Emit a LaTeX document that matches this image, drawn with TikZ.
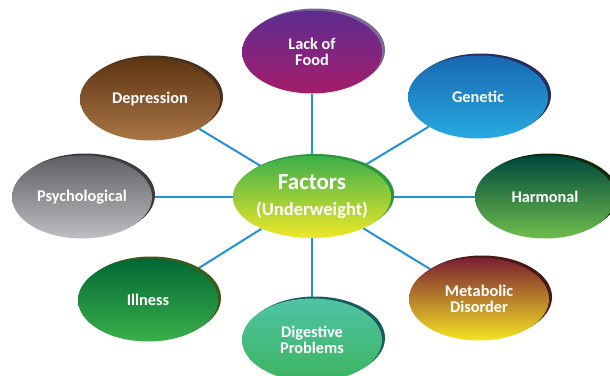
\documentclass[tikz,border=0pt]{standalone}
\usepackage{fontspec}
\setmainfont{Carlito}
\usetikzlibrary{shapes.geometric,shadows,backgrounds}
\definecolor{linkblue}{RGB}{33,146,212}
\definecolor{foodtop}{RGB}{93,45,145}
\definecolor{foodbot}{RGB}{165,28,106}
\definecolor{foodsh}{RGB}{125,105,150}
\definecolor{gentop}{RGB}{24,104,176}
\definecolor{genbot}{RGB}{40,170,225}
\definecolor{gensh}{RGB}{40,45,100}
\definecolor{deptop}{RGB}{92,52,18}
\definecolor{depbot}{RGB}{170,118,70}
\definecolor{depsh}{RGB}{70,50,30}
\definecolor{psytop}{RGB}{95,96,99}
\definecolor{psybot}{RGB}{190,191,194}
\definecolor{psysh}{RGB}{60,60,62}
\definecolor{factop}{RGB}{60,175,74}
\definecolor{facbot}{RGB}{240,232,40}
\definecolor{facsh}{RGB}{45,150,60}
\definecolor{hartop}{RGB}{0,72,62}
\definecolor{harbot}{RGB}{110,190,75}
\definecolor{harsh}{RGB}{20,40,10}
\definecolor{mettop}{RGB}{122,30,50}
\definecolor{metbot}{RGB}{245,228,35}
\definecolor{metsh}{RGB}{70,25,20}
\definecolor{illtop}{RGB}{0,104,52}
\definecolor{illbot}{RGB}{60,175,75}
\definecolor{illsh}{RGB}{60,90,30}
\definecolor{digtop}{RGB}{80,195,165}
\definecolor{digbot}{RGB}{60,180,95}
\definecolor{digsh}{RGB}{25,90,95}
\tikzset{
	bubble/.style n args={3}{ellipse, minimum width=140pt, minimum height=83pt, inner sep=0pt,
		general shadow={fill=#3, shadow xshift=3pt, shadow yshift=2pt},
		top color=#1, bottom color=#2, text=white, align=center,
		font=\bfseries\fontsize{16.3}{15.5}\selectfont},
	link/.style={draw=linkblue, line width=2pt}
}
\begin{document}
\begin{tikzpicture}[x=1pt,y=-1pt]
				\useasboundingbox (0,0) rectangle (610,375);
				\clip (0,0) rectangle (610,375);
				\node[bubble={factop}{facbot}{facsh}, minimum width=141pt, minimum height=82pt,
					font=\bfseries\fontsize{18.5}{26}\selectfont] (fac) at (312,197)
					{{\fontsize{23}{26}\selectfont Factors}\\(Underweight)};
				\node[bubble={foodtop}{foodbot}{foodsh}] (food) at (312,52) {Lack of\\Food};
				\node[bubble={gentop}{genbot}{gensh}] (gen) at (478,97) {Genetic};
				\node[bubble={deptop}{depbot}{depsh}] (dep) at (150,99) {Depression};
				\node[bubble={psytop}{psybot}{psysh}] (psy) at (82,197) {Psychological};
				\node[bubble={hartop}{harbot}{harsh}] (har) at (545,197) {Harmonal};
				\node[bubble={mettop}{metbot}{metsh}] (met) at (479,299) {Metabolic\\Disorder};
				\node[bubble={illtop}{illbot}{illsh}] (ill) at (148,300) {Illness};
				\node[bubble={digtop}{digbot}{digsh}] (dig) at (312,340) {Digestive\\Problems};
				\begin{scope}[on background layer]
					\foreach \n in {food,gen,dep,psy,har,met,ill,dig}
						\draw[link] (fac) -- (\n);
				\end{scope}
\end{tikzpicture}
\end{document}
